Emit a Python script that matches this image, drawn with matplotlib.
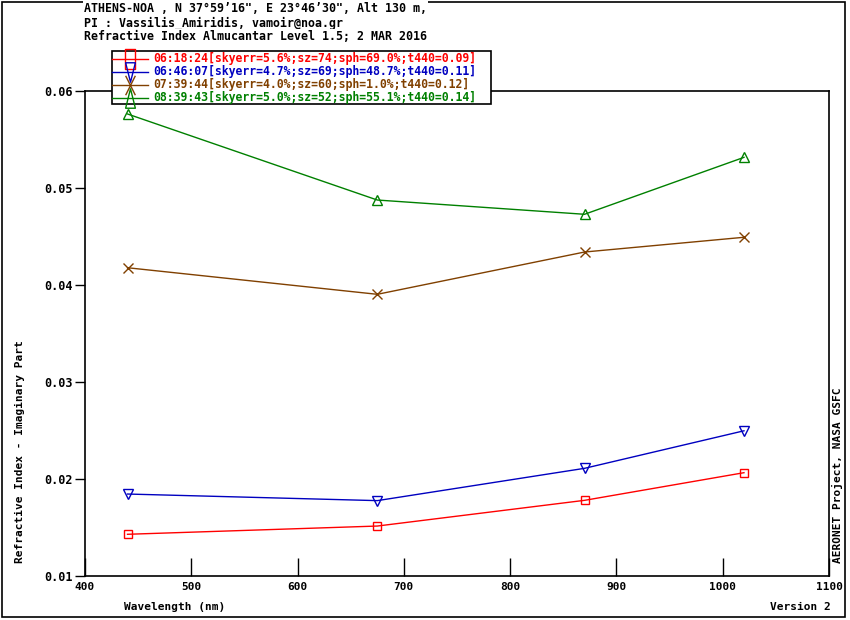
import matplotlib
matplotlib.use("Agg")
import matplotlib.pyplot as plt
from matplotlib.patches import Rectangle
from matplotlib.lines import Line2D
from matplotlib.path import Path

wavelengths = [440, 675, 870, 1020]
s1 = [0.0143, 0.01515, 0.0178, 0.02065]
s2 = [0.01845, 0.01777, 0.0211, 0.02497]
s3 = [0.04178, 0.03904, 0.0434, 0.04492]
s4 = [0.05763, 0.04876, 0.04729, 0.05316]
labels = [
    "06:18:24[skyerr=5.6%;sz=74;sph=69.0%;t440=0.09]",
    "06:46:07[skyerr=4.7%;sz=69;sph=48.7%;t440=0.11]",
    "07:39:44[skyerr=4.0%;sz=60;sph=1.0%;t440=0.12]",
    "08:39:43[skyerr=5.0%;sz=52;sph=55.1%;t440=0.14]",
]
colors = ["#ff0000", "#0000c0", "#804000", "#008000"]
markers = ["s", "v", "x", "^"]
title_lines = [
    "ATHENS-NOA , N 37°59’16\", E 23°46’30\", Alt 130 m,",
    "PI : Vassilis_Amiridis, vamoir@noa.gr",
    "Refractive Index Almucantar Level 1.5; 2 MAR 2016",
]
xticks = [400, 500, 600, 700, 800, 900, 1000, 1100]
yticks = [0.01, 0.02, 0.03, 0.04, 0.05, 0.06]

plt.rcParams['font.family'] = ['DejaVu Sans Mono', 'DejaVu Sans']
W, H = 850, 620
fig = plt.figure(figsize=(8.5, 6.2), dpi=100)
fig.patch.set_facecolor("white")

def fx(px):
    return px / W

def fy(py):
    return 1 - py / H

# tall legend markers
tall = {
    "s": Path([(-0.5, -1), (0.5, -1), (0.5, 1), (-0.5, 1), (-0.5, -1)],
              [Path.MOVETO, Path.LINETO, Path.LINETO, Path.LINETO, Path.CLOSEPOLY]),
    "v": Path([(-0.5, 1), (0.5, 1), (0, -1), (-0.5, 1)],
              [Path.MOVETO, Path.LINETO, Path.LINETO, Path.CLOSEPOLY]),
    "x": Path([(-0.5, -1), (0.5, 1), (-0.5, 1), (0.5, -1)],
              [Path.MOVETO, Path.LINETO, Path.MOVETO, Path.LINETO]),
    "^": Path([(-0.5, -1), (0.5, -1), (0, 1), (-0.5, -1)],
              [Path.MOVETO, Path.LINETO, Path.LINETO, Path.CLOSEPOLY]),
}

# outer border
fig.add_artist(Rectangle((fx(2), fy(617)), fx(845) - fx(2), fy(2) - fy(617),
                         transform=fig.transFigure, fill=False, edgecolor="black", lw=1.2))

ax = fig.add_axes([fx(85), fy(576), fx(829) - fx(85), fy(91) - fy(576)])
series = [s1, s2, s3, s4]
for vals, c, m in zip(series, colors, markers):
    ax.plot(wavelengths, vals, color=c, lw=1.0, marker=m, markersize=6.5 if m != "s" else 5.5,
            markerfacecolor="none", markeredgecolor=c, markeredgewidth=1.0)

ax.set_xlim(400, 1100)
ax.set_ylim(0.01, 0.06)
ax.set_xticks(xticks)
ax.set_yticks(yticks)
ax.set_xticklabels([str(t) for t in xticks], fontsize=8, fontweight="bold", family="DejaVu Sans Mono")
ax.set_yticklabels(["%.2f" % t for t in yticks], fontsize=8.5, fontweight="bold", family="DejaVu Sans Mono")
ax.tick_params(axis="x", direction="in", length=13, width=1, pad=4, top=False)
ax.tick_params(axis="y", direction="out", length=7, width=1, pad=1.5, right=False)
for sp in ax.spines.values():
    sp.set_linewidth(1.2)

# titles
for i, t in enumerate(title_lines):
    fig.text(fx(84), fy(9 + 14 * i), t, fontsize=8.4, fontweight="bold", va="center", ha="left",
             color="black", bbox=dict(facecolor="white", edgecolor="none", pad=1))

# legend (custom)
lx0, lx1, ly0, ly1 = 112, 491, 51, 104
fig.add_artist(Rectangle((fx(lx0), fy(ly1)), fx(lx1) - fx(lx0), fy(ly0) - fy(ly1),
                         transform=fig.transFigure, facecolor="white", edgecolor="black", lw=1.2, zorder=5))
for i, (lab, c, m) in enumerate(zip(labels, colors, markers)):
    yy = 58.5 + 13 * i
    fig.add_artist(Line2D([fx(112), fx(148)], [fy(yy), fy(yy)], transform=fig.transFigure,
                          color=c, lw=1.0, zorder=6))
    fig.add_artist(Line2D([fx(130)], [fy(yy)], transform=fig.transFigure, color=c, marker=tall[m],
                          markersize=14, markerfacecolor="none", markeredgecolor=c,
                          markeredgewidth=1.0, zorder=6))
    fig.text(fx(153), fy(yy), lab, fontsize=8.3, fontweight="bold", color=c, va="center", ha="left", zorder=7)

# axis labels
fig.text(fx(124), fy(607), "Wavelength (nm)", fontsize=8, fontweight="bold", va="center", ha="left")
fig.text(fx(831), fy(607), "Version 2", fontsize=8, fontweight="bold", va="center", ha="right")
fig.text(fx(20), fy(563), "Refractive Index - Imaginary Part", fontsize=8, fontweight="bold",
         rotation=90, va="bottom", ha="center")
fig.text(fx(837), fy(563), "AERONET Project, NASA GSFC", fontsize=8, fontweight="bold",
         rotation=90, va="bottom", ha="center")

fig.savefig("out.png", dpi=100, facecolor="white")
